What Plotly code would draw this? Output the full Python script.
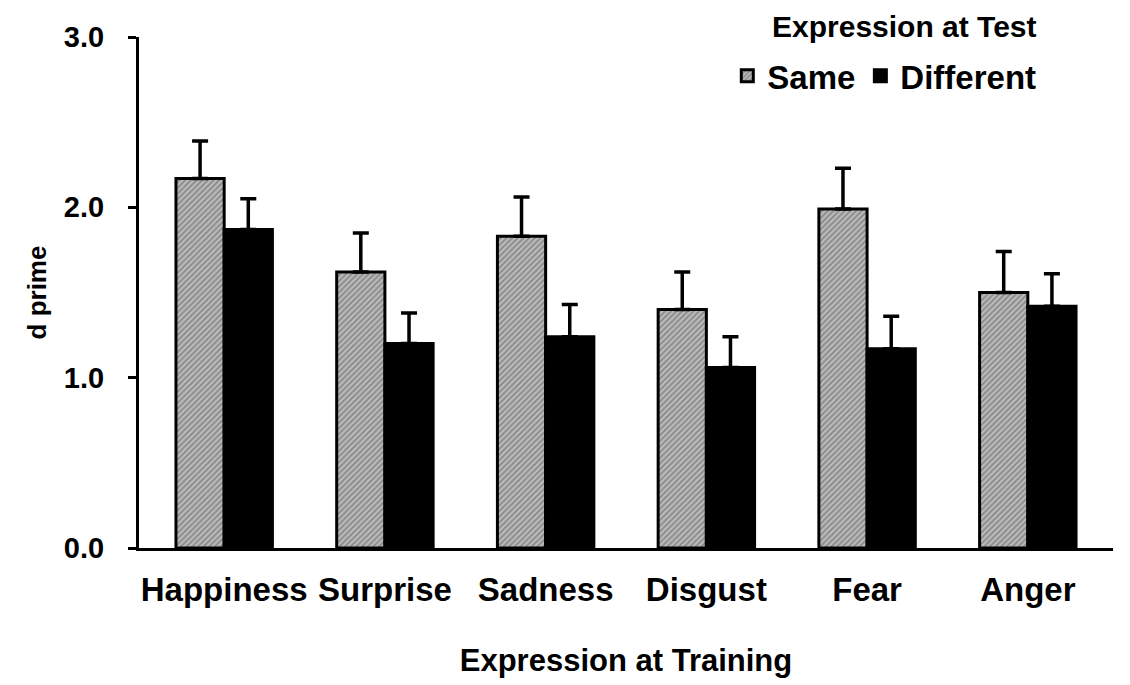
import plotly.graph_objects as go

categories = ["Happiness", "Surprise", "Sadness", "Disgust", "Fear", "Anger"]
same_vals = [2.17, 1.62, 1.83, 1.40, 1.99, 1.50]
same_err = [0.22, 0.23, 0.23, 0.22, 0.24, 0.24]
diff_vals = [1.87, 1.20, 1.24, 1.06, 1.17, 1.42]
diff_err = [0.18, 0.18, 0.19, 0.18, 0.19, 0.19]
y_ticks = [0, 1, 2, 3]
y_tick_labels = ["0.0", "1.0", "2.0", "3.0"]

FONT = "Liberation Sans, Arial, sans-serif"

fig = go.Figure()
fig.add_trace(go.Bar(
    name="Same", x=categories, y=same_vals,
    marker=dict(color="#8c8c8c", line=dict(color="black", width=3),
                pattern=dict(shape="/", fgcolor="#f0f0f0", bgcolor="#8c8c8c",
                             size=4, solidity=0.5)),
    error_y=dict(type="data", array=same_err, arrayminus=[0]*6, symmetric=False,
                 color="black", thickness=3.5, width=8),
))
fig.add_trace(go.Bar(
    name="Different", x=categories, y=diff_vals,
    marker=dict(color="black", line=dict(color="black", width=3)),
    error_y=dict(type="data", array=diff_err, arrayminus=[0]*6, symmetric=False,
                 color="black", thickness=3.5, width=8),
))

fig.update_layout(
    width=1122, height=677,
    margin=dict(l=131, r=17, t=29, b=137),
    paper_bgcolor="white", plot_bgcolor="white",
    font=dict(family=FONT, size=30, color="black", weight="bold"),
    barmode="group", bargap=0.4, bargroupgap=0,
    showlegend=True,
    legend=dict(orientation="h", x=0.604, y=0.924, xanchor="left", yanchor="middle",
                font=dict(size=33), bgcolor="rgba(0,0,0,0)",
                itemwidth=30, tracegroupgap=0),
    annotations=[dict(text="Expression at Test", x=0.786, y=1.0196, xref="paper", yref="paper",
                      xanchor="center", yanchor="middle", showarrow=False,
                      borderpad=0, font=dict(size=30))],
)
fig.update_xaxes(
    showline=True, linecolor="black", linewidth=3, ticks="",
    tickfont=dict(size=33), ticklabelstandoff=10,
    range=[-0.53, 5.53], showgrid=False, zeroline=False,
    title=dict(text="Expression at Training", font=dict(size=31), standoff=43),
)
fig.update_yaxes(
    showline=True, linecolor="black", linewidth=3, ticks="outside", ticklen=8,
    tickwidth=3, tickcolor="black",
    tickvals=y_ticks, ticktext=y_tick_labels, tickfont=dict(size=29),
    ticklabelstandoff=18,
    range=[0, 3], showgrid=False, zeroline=False,
    title=dict(text="d prime", font=dict(size=26), standoff=10),
)

fig.write_html("out.html")
